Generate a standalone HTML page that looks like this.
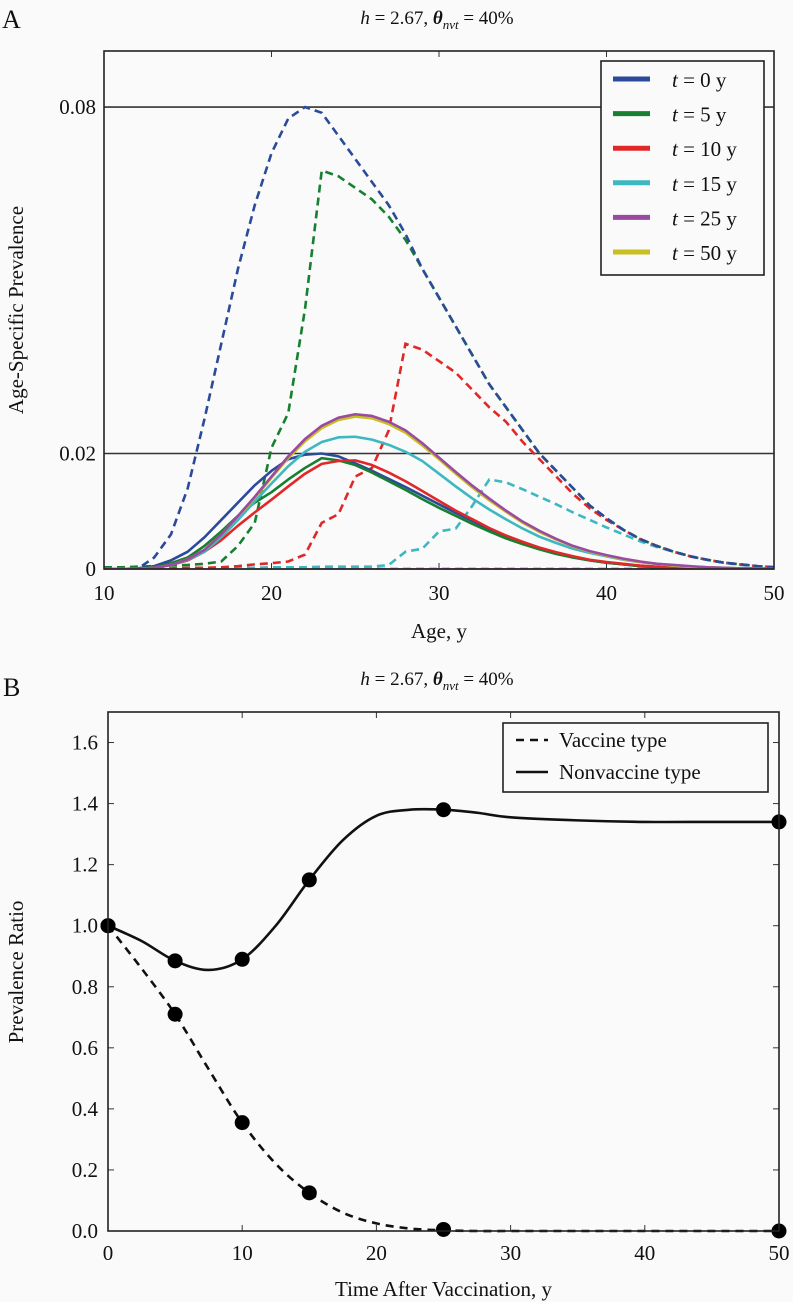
<!DOCTYPE html>
<html><head><meta charset="utf-8"><style>
html,body{margin:0;padding:0;background:#fafafa;}
svg{display:block;font-family:"Liberation Serif",serif;}
</style></head><body>
<svg id="fig" width="793" height="1302" viewBox="0 0 793 1302" xmlns="http://www.w3.org/2000/svg">
<rect x="0" y="0" width="793" height="1302" fill="#fafafa"/>
<g id="pA"></g>
<g id="pB"></g>
</svg>
<script>
// ---------- Panel A data ----------
const agesA = [10,11,12,13,14,15,16,17,18,19,20,21,22,23,24,25,26,27,28,29,30,31,32,33,34,35,36,37,38,39,40,41,42,43,44,45,46,47,48,49,50];
const seriesLabels = ["t0","t5","t10","t15","t25","t50"];
const legendYears = ["0","5","10","15","25","50"];
const seriesColors = ["#2c4a9a","#168030","#e02828","#3cb8c0","#9a4aa0","#c8c020"];
const vtT0 = [0,0,0,0.002,0.006,0.014,0.026,0.039,0.052,0.063,0.072,0.078,0.080,0.079,0.075,0.071,0.067,0.063,0.058,0.052,0.047,0.042,0.037,0.032,0.028,0.024,0.020,0.017,0.014,0.011,0.0088,0.0068,0.0052,0.004,0.003,0.0022,0.0016,0.0011,0.0008,0.0005,0.0003];
const vtT5 = [0.0003,0.0003,0.0004,0.0005,0.0006,0.0007,0.0009,0.0013,0.004,0.008,0.021,0.027,0.045,0.069,0.068,0.066,0.064,0.061,0.057,0.052,0.047,0.042,0.037,0.032,0.028,0.024,0.020,0.017,0.014,0.011,0.0088,0.0068,0.0052,0.004,0.003,0.0022,0.0016,0.0011,0.0008,0.0005,0.0003];
const vtT10 = [0,0,0,0.0001,0.0001,0.0002,0.0002,0.0003,0.0005,0.0008,0.001,0.0013,0.0025,0.008,0.0095,0.016,0.0175,0.024,0.039,0.038,0.036,0.034,0.031,0.028,0.0255,0.022,0.019,0.016,0.013,0.0105,0.0085,0.0068,0.0052,0.004,0.003,0.0022,0.0016,0.0011,0.0008,0.0005,0.0003];
const vtT15 = [0,0,0,0,0,0,0.0001,0.0001,0.0002,0.0002,0.0003,0.0003,0.0003,0.0004,0.0004,0.0004,0.0004,0.0007,0.003,0.0035,0.0065,0.007,0.011,0.0155,0.015,0.0138,0.0125,0.0112,0.0098,0.0085,0.0072,0.006,0.0048,0.0038,0.003,0.0022,0.0016,0.0011,0.0007,0.0005,0.0003];
const vtT25 = [0,0,0,0,0,0,0,0,0,0,0,0,0,0,0,0,0,0,0,0,0,0,0,0,0,0,0,0,0,0,0,0,0,0,0,0,0,0,0,0,0];
const vtT50 = [0,0,0,0,0,0,0,0,0,0,0,0,0,0,0,0,0,0,0,0,0,0,0,0,0,0,0,0,0,0,0,0,0,0,0,0,0,0,0,0,0];
const nvtT0 = [0,0,0.0001,0.0005,0.0015,0.003,0.0055,0.0085,0.0115,0.0145,0.017,0.019,0.0198,0.02,0.0195,0.0183,0.017,0.0156,0.0142,0.0127,0.0112,0.0097,0.0083,0.0069,0.0056,0.0045,0.0035,0.0027,0.002,0.0015,0.0011,0.0008,0.0005,0.0003,0.0002,0.0001,0,0,0,0,0];
const nvtT5 = [0,0,0.0001,0.0003,0.001,0.002,0.004,0.0065,0.0092,0.0115,0.0133,0.0155,0.0175,0.0192,0.0188,0.018,0.0167,0.0152,0.0137,0.0121,0.0106,0.0092,0.0078,0.0065,0.0053,0.0043,0.0034,0.0026,0.002,0.0015,0.0011,0.0008,0.0005,0.0003,0.0002,0.0001,0,0,0,0,0];
const nvtT10 = [0,0,0,0.0002,0.0007,0.0015,0.003,0.005,0.0075,0.0098,0.012,0.0143,0.0165,0.0182,0.0187,0.0188,0.018,0.0167,0.0152,0.0135,0.0118,0.0101,0.0086,0.0071,0.0058,0.0047,0.0037,0.0029,0.0022,0.0016,0.0012,0.0009,0.0006,0.0004,0.0002,0.0001,0,0,0,0,0];
const nvtT15 = [0,0,0,0.0002,0.0007,0.0016,0.003,0.0055,0.0085,0.0117,0.0148,0.0178,0.0203,0.022,0.0228,0.0229,0.0224,0.0215,0.0203,0.0187,0.0165,0.0143,0.0122,0.0103,0.0086,0.007,0.0056,0.0045,0.0035,0.0028,0.0022,0.0016,0.0012,0.0009,0.0006,0.0004,0.0003,0.0002,0.0001,0.0001,0];
const nvtT25 = [0,0,0,0.0002,0.0007,0.0017,0.0033,0.006,0.0092,0.0125,0.016,0.0195,0.0225,0.0248,0.0262,0.0268,0.0265,0.0255,0.024,0.0218,0.0193,0.0168,0.0144,0.0122,0.0101,0.0082,0.0066,0.0052,0.004,0.0031,0.0024,0.0018,0.0013,0.0009,0.0007,0.0005,0.0003,0.0002,0.0001,0.0001,0];
const nvtT50 = [0,0,0,0.0002,0.0007,0.0017,0.0033,0.006,0.0091,0.0123,0.0158,0.0192,0.0221,0.0244,0.0258,0.0264,0.0261,0.0251,0.0236,0.0214,0.019,0.0165,0.0141,0.0119,0.0099,0.008,0.0064,0.0051,0.0039,0.003,0.0023,0.0017,0.0012,0.0009,0.0006,0.0004,0.0003,0.0002,0.0001,0.0001,0];
const xTicksA = [10,20,30,40,50];
const yTicksA = [0,0.02,0.08];
const yTickLabelsA = ["0","0.02","0.08"];

// ---------- Panel B data ----------
const timesPts = [0,5,10,15,25,50];
const nvtPts = [1.0,0.885,0.89,1.15,1.38,1.34];
const vtPts = [1.0,0.71,0.355,0.125,0.005,0.0];
const timesCurve = [0,2.5,5,7.5,10,12.5,15,17.5,20,22.5,25,27.5,30,35,40,45,50];
const nvtCurve = [1.0,0.95,0.885,0.855,0.89,1.0,1.15,1.28,1.36,1.38,1.38,1.37,1.355,1.345,1.34,1.34,1.34];
const vtCurve = [1.0,0.86,0.71,0.53,0.355,0.22,0.125,0.06,0.025,0.008,0.002,0,0,0,0,0,0];
const xTicksB = [0,10,20,30,40,50];
const yTicksB = [0,0.2,0.4,0.6,0.8,1.0,1.2,1.4,1.6];
const yTickLabelsB = ["0.0","0.2","0.4","0.6","0.8","1.0","1.2","1.4","1.6"];

const NS = "http://www.w3.org/2000/svg";
function mk(tag, attrs, parent){const e=document.createElementNS(NS,tag);for(const k in attrs)e.setAttribute(k,attrs[k]);parent.appendChild(e);return e;}

// axes A
const A = {l:104,r:774,t:51,b:569,x0:10,x1:50,y0:0,y1:0.0897};
const xA = v => A.l + (v-A.x0)/(A.x1-A.x0)*(A.r-A.l);
const yA = v => A.b - (v-A.y0)/(A.y1-A.y0)*(A.b-A.t);
const B = {l:108,r:779,t:712,b:1231,x0:0,x1:50,y0:0,y1:1.7};
const xB = v => B.l + (v-B.x0)/(B.x1-B.x0)*(B.r-B.l);
const yB = v => B.b - (v-B.y0)/(B.y1-B.y0)*(B.b-B.t);

function smoothPath(xs, ys, fx, fy){
  const p = xs.map((x,i)=>[fx(x),fy(ys[i])]);
  let d = "M"+p[0][0].toFixed(2)+","+p[0][1].toFixed(2);
  for(let i=0;i<p.length-1;i++){
    const p0=p[Math.max(0,i-1)],p1=p[i],p2=p[i+1],p3=p[Math.min(p.length-1,i+2)];
    const c1=[p1[0]+(p2[0]-p0[0])/6,p1[1]+(p2[1]-p0[1])/6];
    const c2=[p2[0]-(p3[0]-p1[0])/6,p2[1]-(p3[1]-p1[1])/6];
    d+=" C"+c1.map(v=>v.toFixed(2)).join(",")+" "+c2.map(v=>v.toFixed(2)).join(",")+" "+p2[0].toFixed(2)+","+p2[1].toFixed(2);
  }
  return d;
}
function linePath(xs, ys, fx, fy){return xs.map((x,i)=>(i?"L":"M")+fx(x).toFixed(2)+","+fy(ys[i]).toFixed(2)).join(" ");}

// ---------- Draw panel A ----------
const gA = document.getElementById('pA');
let t;
t = mk('text',{x:2,y:28,'font-size':26,fill:'#111'},gA); t.textContent='A';
 
t = mk('text',{x:437,y:24,'font-size':19,fill:'#111','text-anchor':'middle'},gA);
t.innerHTML='<tspan font-style="italic">h</tspan> = 2.67, <tspan font-style="italic" font-weight="bold">θ</tspan><tspan font-style="italic" font-size="13" dy="5">nvt</tspan><tspan dy="-5"> = 40%</tspan>';
 
const clipA = mk('clipPath',{id:'clipA'},gA); mk('rect',{x:A.l,y:A.t,width:A.r-A.l,height:A.b-A.t},clipA);
// gridlines at ticks
const gridA = mk('g',{},gA);
 
yTicksA.forEach((v,i)=>{
  const ln = mk('line',{x1:A.l,x2:A.r,y1:yA(v),y2:yA(v),stroke:'#333','stroke-width':1.6},gridA);
   
  const lb = mk('text',{x:A.l-8,y:yA(v)+7,'font-size':21,'text-anchor':'end',fill:'#111'},gA);
  lb.textContent = yTickLabelsA[i];
   
});
xTicksA.forEach(v=>{
  const tk = mk('line',{x1:xA(v),x2:xA(v),y1:A.t,y2:A.t+6,stroke:'#333','stroke-width':1},gA);
   
  const tk2 = mk('line',{x1:xA(v),x2:xA(v),y1:A.b,y2:A.b-6,stroke:'#333','stroke-width':1},gA);
   
  const lb = mk('text',{x:xA(v),y:A.b+31,'font-size':21,'text-anchor':'middle',fill:'#111'},gA);
  lb.textContent = String(v);
   
});
const seriesA = mk('g',{'clip-path':'url(#clipA)'},gA);
 
const vtAll = [vtT0,vtT5,vtT10,vtT15,vtT25,vtT50];
const nvtAll = [nvtT0,nvtT5,nvtT10,nvtT15,nvtT25,nvtT50];
[5,4,3,2,1,0].forEach(i=>{
  const p = mk('path',{d:linePath(agesA,vtAll[i],xA,yA),fill:'none',stroke:seriesColors[i],'stroke-width':2.6,'stroke-dasharray':'8,5'},seriesA);
   
});
[0,1,2,3,5,4].forEach(i=>{
  const p = mk('path',{d:linePath(agesA,nvtAll[i],xA,yA),fill:'none',stroke:seriesColors[i],'stroke-width':2.6,'stroke-linejoin':'round'},seriesA);
   
});
const frA = mk('rect',{x:A.l,y:A.t,width:A.r-A.l,height:A.b-A.t,fill:'none',stroke:'#222','stroke-width':1.6},gA);
 
t = mk('text',{x:xA(30),y:638,'font-size':21,'text-anchor':'middle',fill:'#111'},gA); t.textContent='Age, y';
 
t = mk('text',{x:0,y:0,'font-size':21,'text-anchor':'middle',fill:'#111',transform:'translate(23,310) rotate(-90)'},gA); t.textContent='Age-Specific Prevalence';
 
// legend A
const legA = mk('g',{},gA);
 
mk('rect',{x:601,y:61,width:163,height:214,fill:'#fafafa',stroke:'#222','stroke-width':1.6},legA);
legendYears.forEach((yr,i)=>{
  const ey = 79 + i*34.6;
  const ent = mk('g',{},legA);
   
  mk('line',{x1:613,x2:650,y1:ey,y2:ey,stroke:seriesColors[i],'stroke-width':5},ent);
  const tx = mk('text',{x:672,y:ey+8,'font-size':21,fill:'#111'},ent);
  tx.innerHTML = '<tspan font-style="italic">t</tspan> = '+yr+' y';
});

// ---------- Draw panel B ----------
const gB = document.getElementById('pB');
t = mk('text',{x:3,y:696,'font-size':26,fill:'#111'},gB); t.textContent='B';
 
t = mk('text',{x:437,y:685,'font-size':19,fill:'#111','text-anchor':'middle'},gB);
t.innerHTML='<tspan font-style="italic">h</tspan> = 2.67, <tspan font-style="italic" font-weight="bold">θ</tspan><tspan font-style="italic" font-size="13" dy="5">nvt</tspan><tspan dy="-5"> = 40%</tspan>';
 
yTicksB.forEach((v,i)=>{
  const tk = mk('line',{x1:B.l,x2:B.l+6,y1:yB(v),y2:yB(v),stroke:'#333','stroke-width':1},gB);
   
  const tk2 = mk('line',{x1:B.r,x2:B.r-6,y1:yB(v),y2:yB(v),stroke:'#333','stroke-width':1},gB);
   
  const lb = mk('text',{x:B.l-10,y:yB(v)+7,'font-size':21,'text-anchor':'end',fill:'#111'},gB);
  lb.textContent = yTickLabelsB[i];
   
});
xTicksB.forEach(v=>{
  const tk = mk('line',{x1:xB(v),x2:xB(v),y1:B.t,y2:B.t+6,stroke:'#333','stroke-width':1},gB);
   
  const tk2 = mk('line',{x1:xB(v),x2:xB(v),y1:B.b,y2:B.b-6,stroke:'#333','stroke-width':1},gB);
   
  const lb = mk('text',{x:xB(v),y:B.b+29,'font-size':21,'text-anchor':'middle',fill:'#111'},gB);
  lb.textContent = String(v);
   
});
const vtLine = mk('path',{d:smoothPath(timesCurve,vtCurve,xB,yB),fill:'none',stroke:'#111','stroke-width':2.6,'stroke-dasharray':'8,6'},gB);
 
const nvtLine = mk('path',{d:smoothPath(timesCurve,nvtCurve,xB,yB),fill:'none',stroke:'#111','stroke-width':2.6},gB);
 
timesPts.forEach((tv,i)=>{
  const c1 = mk('circle',{cx:xB(tv),cy:yB(vtPts[i]),r:7.5,fill:'#000'},gB);
   
  const c2 = mk('circle',{cx:xB(tv),cy:yB(nvtPts[i]),r:7.5,fill:'#000'},gB);
   
});
const frB = mk('rect',{x:B.l,y:B.t,width:B.r-B.l,height:B.b-B.t,fill:'none',stroke:'#222','stroke-width':1.6},gB);
 
t = mk('text',{x:xB(25),y:1296,'font-size':21,'text-anchor':'middle',fill:'#111'},gB); t.textContent='Time After Vaccination, y';
 
t = mk('text',{x:0,y:0,'font-size':21,'text-anchor':'middle',fill:'#111',transform:'translate(23,972) rotate(-90)'},gB); t.textContent='Prevalence Ratio';
 
const legB = mk('g',{},gB);
 
mk('rect',{x:503,y:723,width:265,height:69,fill:'#fafafa',stroke:'#222','stroke-width':1.6},legB);
const e1 = mk('g',{},legB);
 
mk('line',{x1:516,x2:548,y1:740,y2:740,stroke:'#111','stroke-width':2.6,'stroke-dasharray':'8,6'},e1);
t = mk('text',{x:559,y:747,'font-size':21,fill:'#111'},e1); t.textContent='Vaccine type';
const e2 = mk('g',{},legB);
 
mk('line',{x1:516,x2:548,y1:772,y2:772,stroke:'#111','stroke-width':2.6},e2);
t = mk('text',{x:559,y:779,'font-size':21,fill:'#111'},e2); t.textContent='Nonvaccine type';
</script>
</body></html>
